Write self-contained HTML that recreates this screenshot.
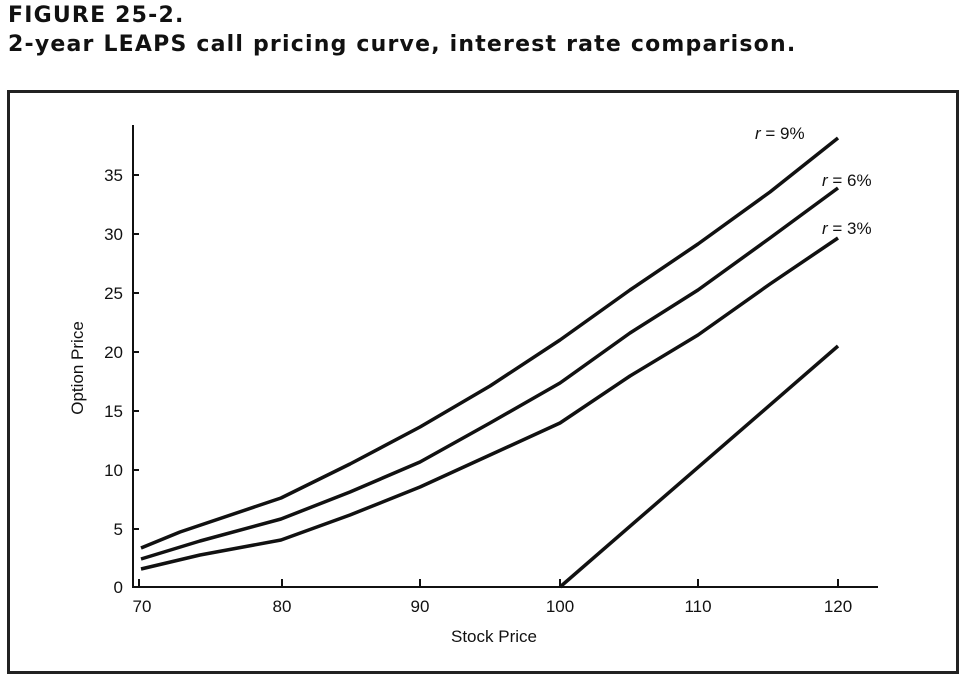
<!DOCTYPE html>
<html><head><style>
body{margin:0;background:#fff;width:979px;height:694px;overflow:hidden}
.t{position:absolute;left:8px;font-family:"DejaVu Sans","Liberation Sans",sans-serif;font-weight:bold;font-size:22px;color:#111;letter-spacing:1.2px}
</style></head><body>
<div class="t" style="top:3px">FIGURE 25-2.</div>
<div class="t" style="top:32px">2-year LEAPS call pricing curve, interest rate comparison.</div>
<svg width="979" height="694" style="position:absolute;left:0;top:0" font-family="Liberation Sans, sans-serif" font-size="17" fill="#111">
<rect x="8.5" y="91.5" width="949" height="581" fill="none" stroke="#222" stroke-width="3"/>
<g stroke="#111" stroke-width="2" fill="none">
<path d="M133 125 V587 H878"/>
<path d="M133 175h6M133 234h6M133 293h6M133 352h6M133 411h6M133 470h6M133 529h6"/>
<path d="M139 587v-8M282 587v-8M420 587v-8M560 587v-8M698 587v-8M838 587v-8"/>
</g>
<g stroke="#111" stroke-width="3.5" fill="none" stroke-linejoin="round">
<polyline points="141,548 180,532 281,498 350,464 420,427 490,386 560,340 630,290 698,244 770,192 838,138"/>
<polyline points="141,559 200,541 281,519 350,492 420,462 490,423 560,383 630,333 698,290 770,238 838,188"/>
<polyline points="141,569 200,555 281,540 350,515 420,487 490,455 560,423 630,376 698,335 770,284 838,238"/>
<polyline points="560,587 838,346"/>
</g>
<g text-anchor="end">
<text x="123" y="181">35</text><text x="123" y="240">30</text><text x="123" y="299">25</text>
<text x="123" y="358">20</text><text x="123" y="417">15</text><text x="123" y="476">10</text>
<text x="123" y="535">5</text><text x="123" y="593">0</text>
</g>
<g text-anchor="middle">
<text x="142" y="612">70</text><text x="282" y="612">80</text><text x="420" y="612">90</text>
<text x="560" y="612">100</text><text x="698" y="612">110</text><text x="838" y="612">120</text>
<text x="494" y="642">Stock Price</text>
<text transform="translate(83,368) rotate(-90)">Option Price</text>
</g>
<text x="755" y="139"><tspan font-style="italic">r</tspan> = 9%</text>
<text x="822" y="186"><tspan font-style="italic">r</tspan> = 6%</text>
<text x="822" y="234"><tspan font-style="italic">r</tspan> = 3%</text>
</svg>
</body></html>
